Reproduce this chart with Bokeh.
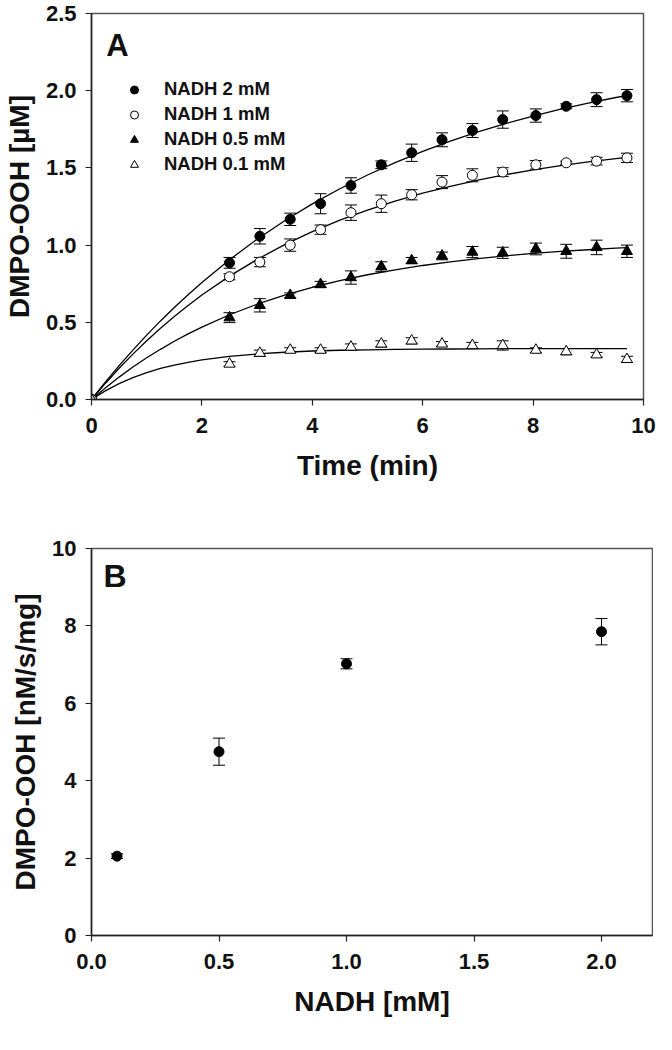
from bokeh.plotting import figure
from bokeh.models import (Range1d, Whisker, ColumnDataSource, Legend, LegendItem,
                          Label, FixedTicker, TeeHead, NumeralTickFormatter)
from bokeh.layouts import column
from bokeh.embed import file_html
from bokeh.resources import INLINE

# ---------------- Panel A data ----------------
time_min = [0, 2.5, 3.05, 3.6, 4.15, 4.7, 5.25, 5.8, 6.35, 6.9, 7.45, 8.05, 8.6, 9.15, 9.7]
nadh_2 = [0, 0.885, 1.057, 1.167, 1.268, 1.386, 1.52, 1.598, 1.682, 1.742, 1.813, 1.839, 1.899, 1.942, 1.968]
nadh_2_err = [0, 0.035, 0.05, 0.04, 0.065, 0.05, 0.025, 0.056, 0.045, 0.045, 0.056, 0.043, 0.016, 0.045, 0.04]
nadh_1 = [0, 0.795, 0.89, 1.0, 1.10, 1.21, 1.268, 1.326, 1.408, 1.452, 1.473, 1.52, 1.533, 1.544, 1.565]
nadh_1_err = [0, 0.02, 0.03, 0.04, 0.03, 0.05, 0.056, 0.033, 0.042, 0.042, 0.028, 0.028, 0.01, 0.025, 0.03]
nadh_05 = [0, 0.53, 0.61, 0.675, 0.745, 0.79, 0.86, 0.9, 0.93, 0.955, 0.95, 0.975, 0.96, 0.985, 0.96]
nadh_05_err = [0, 0.032, 0.043, 0.015, 0.02, 0.043, 0.032, 0.02, 0.025, 0.036, 0.036, 0.038, 0.045, 0.047, 0.04]
nadh_01 = [0, 0.23, 0.30, 0.32, 0.32, 0.34, 0.36, 0.38, 0.36, 0.35, 0.35, 0.32, 0.31, 0.29, 0.26]
nadh_01_err = [0, 0.015, 0.02, 0.015, 0.015, 0.02, 0.02, 0.02, 0.015, 0.02, 0.03, 0.015, 0.02, 0.015, 0.02]

# fitted curves
fit_t = [0, 0.25, 0.5, 0.75, 1, 1.25, 1.5, 1.75, 2, 2.5, 3, 3.5, 4, 4.5, 5, 5.5, 6, 6.5, 7, 7.5, 8, 8.5, 9, 9.5, 9.7]
fit_2 = [0, 0.112, 0.219, 0.320, 0.417, 0.509, 0.596, 0.679, 0.758, 0.905, 1.038, 1.158, 1.267, 1.365, 1.454,
         1.534, 1.607, 1.673, 1.733, 1.787, 1.836, 1.880, 1.920, 1.956, 1.968]
fit_1 = [0, 0.104, 0.202, 0.294, 0.380, 0.462, 0.538, 0.609, 0.677, 0.799, 0.907, 1.003, 1.087, 1.162, 1.227,
         1.285, 1.336, 1.381, 1.421, 1.456, 1.487, 1.515, 1.539, 1.560, 1.568]
fit_05 = [0, 0.075, 0.145, 0.210, 0.270, 0.325, 0.377, 0.425, 0.469, 0.549, 0.617, 0.676, 0.727, 0.770, 0.808,
          0.840, 0.868, 0.892, 0.913, 0.930, 0.946, 0.959, 0.970, 0.980, 0.983]
fit_01 = [0, 0.056, 0.103, 0.142, 0.174, 0.201, 0.223, 0.241, 0.256, 0.279, 0.295, 0.306, 0.314, 0.319, 0.322,
          0.325, 0.326, 0.327, 0.328, 0.329, 0.329, 0.330, 0.330, 0.330, 0.330]

series_labels = ["NADH 2 mM", "NADH 1 mM", "NADH 0.5 mM", "NADH 0.1 mM"]

# ---------------- Panel B data ----------------
nadh_conc = [0.1, 0.5, 1.0, 2.0]
rate = [2.05, 4.75, 7.02, 7.85]
rate_err = [0.06, 0.35, 0.13, 0.34]

FONT = "Liberation Sans"


def style(p, xticks, yticks, xfmt, yfmt):
    p.xgrid.visible = False
    p.ygrid.visible = False
    p.outline_line_color = "#555555"
    p.outline_line_width = 1.5
    p.xaxis.ticker = FixedTicker(ticks=xticks)
    p.yaxis.ticker = FixedTicker(ticks=yticks)
    p.xaxis.formatter = NumeralTickFormatter(format=xfmt)
    p.yaxis.formatter = NumeralTickFormatter(format=yfmt)
    for ax in p.xaxis + p.yaxis:
        ax.axis_line_color = "#222222"
        ax.axis_line_width = 1.5
        ax.major_tick_line_color = "#222222"
        ax.major_tick_line_width = 1.2
        ax.major_tick_out = 6
        ax.major_tick_in = 0
        ax.minor_tick_line_color = None
        ax.major_label_text_font = FONT
        ax.major_label_text_font_style = "bold"
        ax.major_label_text_font_size = "22px"
        ax.major_label_text_color = "#111111"
        ax.axis_label_text_font = FONT
        ax.axis_label_text_font_style = "bold"
        ax.axis_label_text_font_size = "28px"
        ax.axis_label_text_color = "#111111"
    p.xaxis.major_label_standoff = 12
    p.yaxis.major_label_standoff = 9
    p.xaxis.axis_label_standoff = 14
    p.yaxis.axis_label_standoff = 8


def add_err(p, x, y, e):
    src = ColumnDataSource(dict(x=x, upper=[a + b for a, b in zip(y, e)],
                                lower=[a - b for a, b in zip(y, e)]))
    w = Whisker(base="x", upper="upper", lower="lower", source=src,
                line_color="black", line_width=1,
                upper_head=TeeHead(size=12, line_color="black", line_width=1),
                lower_head=TeeHead(size=12, line_color="black", line_width=1))
    p.add_layout(w)


# ---------------- Panel A ----------------
pA = figure(frame_width=552, frame_height=386, x_range=Range1d(0, 10), y_range=Range1d(0, 2.5),
            output_backend="svg", toolbar_location=None,
            min_border_left=87, min_border_top=13, min_border_right=14, min_border_bottom=92,
            background_fill_color="white", border_fill_color="white")
style(pA, [0, 2, 4, 6, 8, 10], [0, 0.5, 1.0, 1.5, 2.0, 2.5], "0", "0.0")
pA.xaxis.axis_label = "Time (min)"
pA.yaxis.axis_label = "DMPO-OOH [µM]"

for fy in [fit_2, fit_1, fit_05, fit_01]:
    pA.line(fit_t, fy, line_color="black", line_width=1.3)

for ys, es in [(nadh_2, nadh_2_err), (nadh_1, nadh_1_err), (nadh_05, nadh_05_err), (nadh_01, nadh_01_err)]:
    add_err(pA, time_min, ys, es)

marker_specs = [("circle", "black", 10), ("circle", "white", 10),
                ("triangle", "black", 11), ("triangle", "white", 11)]
for (mk, fill, sz), ys in zip(marker_specs, [nadh_2, nadh_1, nadh_05, nadh_01]):
    pA.scatter(time_min, ys, marker=mk, size=sz, fill_color=fill, line_color="black", line_width=1)

# legend-only glyphs (smaller symbols as in the reference), placed outside the visible ranges
legend_items = []
for (mk, fill, sz), lab in zip(marker_specs, series_labels):
    r = pA.scatter(x=[-50], y=[-50], marker=mk, size=8, fill_color=fill, line_color="black", line_width=1)
    legend_items.append(LegendItem(label=lab, renderers=[r]))
legend = Legend(items=legend_items, location=(33, 224), padding=0, margin=0,
                border_line_color=None, background_fill_alpha=0,
                label_text_font=FONT, label_text_font_style="bold", label_text_font_size="18.5px",
                label_text_color="#111111",
                glyph_width=20, glyph_height=21, label_height=21, spacing=3, label_standoff=20)
pA.add_layout(legend)

pA.add_layout(Label(x=0.47, y=2.29, text="A", text_font=FONT, text_font_style="bold",
                    text_font_size="31px", text_align="center", text_baseline="middle",
                    text_color="#111111"))

# ---------------- Panel B ----------------
pB = figure(frame_width=561, frame_height=387, x_range=Range1d(0, 2.2), y_range=Range1d(0, 10),
            output_backend="svg", toolbar_location=None,
            min_border_left=87, min_border_top=57, min_border_right=5, min_border_bottom=92,
            background_fill_color="white", border_fill_color="white")
style(pB, [0, 0.5, 1.0, 1.5, 2.0], [0, 2, 4, 6, 8, 10], "0.0", "0")
pB.xaxis.axis_label = "NADH [mM]"
pB.yaxis.axis_label = "DMPO-OOH [nM/s/mg]"

add_err(pB, nadh_conc, rate, rate_err)
pB.scatter(nadh_conc, rate, marker="circle", size=10, fill_color="black", line_color="black")

pB.add_layout(Label(x=0.092, y=9.29, text="B", text_font=FONT, text_font_style="bold",
                    text_font_size="32px", text_align="center", text_baseline="middle",
                    text_color="#111111"))

layout = column(pA, pB, spacing=0)
open("out.html", "w").write(file_html(layout, INLINE))
